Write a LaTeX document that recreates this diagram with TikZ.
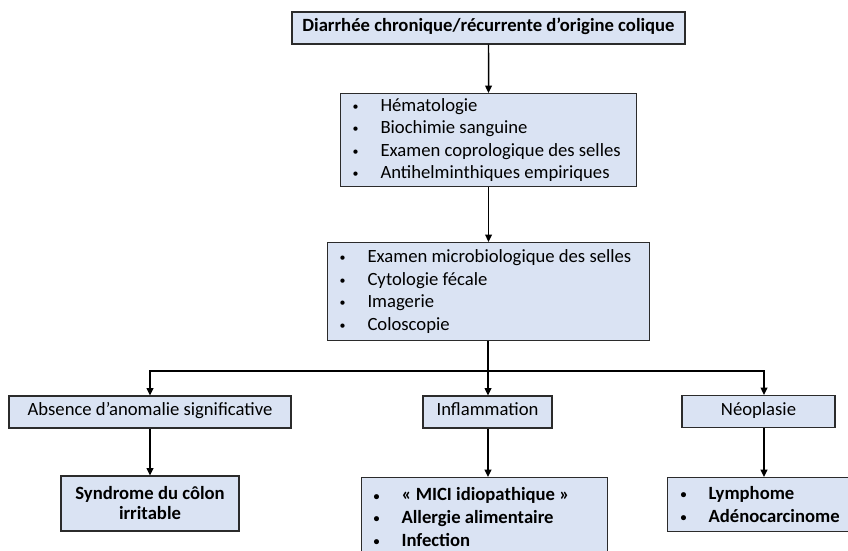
\documentclass[tikz,border=0pt]{standalone}
\usepackage{fontspec}
\setmainfont{Carlito}
\usetikzlibrary{arrows.meta,positioning,calc}
\definecolor{boxblue}{HTML}{DAE3F3}
\definecolor{boxline}{HTML}{2B2B2B}
\newcommand{\blt}{\makebox[21pt][l]{\raisebox{.1ex}{\small\textbullet}}}

\begin{document}
\begin{tikzpicture}[x=0.75pt, y=-0.75pt,
  box/.style={draw=boxline, fill=boxblue, line width=0.8pt, inner sep=0pt, align=center, font=\fontsize{14}{16.9}\selectfont},
  onebox/.style={box, text height=1.5ex, text depth=.3ex, minimum height=24pt},
  listbox/.style={box, anchor=north west, align=flush left, inner xsep=9pt},
  arr/.style={-{Triangle[length=5.5pt, width=5pt]}, line width=1.1pt, black},
  lin/.style={line width=1.1pt, black}
]
\useasboundingbox (0,0) rectangle (848,550);
% top
\node[onebox, font=\fontsize{14}{16.9}\selectfont\bfseries, minimum width=294.75pt] (diar) at (488.5,28) {Diarrhée chronique/récurrente d’origine colique};
% first work-up
\node[listbox, text width=204pt, minimum height=69.75pt] (bilan) at (340,93)
  {\blt Hématologie\\ \blt Biochimie sanguine\\ \blt Examen coprologique des selles\\ \blt Antihelminthiques empiriques};
% second work-up
\node[listbox, text width=223.5pt, minimum height=73.5pt] (explo) at (327,242)
  {\blt Examen microbiologique des selles\\ \blt Cytologie fécale\\ \blt Imagerie\\ \blt Coloscopie};
% results
\node[onebox, minimum width=211.5pt] (absence) at (150,412) {Absence d’anomalie significative};
\node[onebox, minimum width=96.75pt] (inflam) at (487.5,412) {Inflammation};
\node[onebox, minimum width=114.75pt] (neopl) at (758.5,411.5) {Néoplasie};
% diagnoses
\node[box, font=\fontsize{14}{15}\selectfont\bfseries, minimum width=133.5pt, minimum height=41.25pt] (sci) at (150,503.5) {Syndrome du côlon\\ irritable};
\node[listbox, font=\fontsize{14}{16.9}\selectfont\bfseries, text width=166.5pt, minimum height=59.25pt] (mici) at (361,477)
  {\blt « MICI idiopathique »\\ \blt Allergie alimentaire\\ \blt Infection};
\node[listbox, font=\fontsize{14}{16.9}\selectfont\bfseries, inner xsep=9.75pt, text width=125pt, minimum height=40.5pt] (tumeur) at (667,477)
  {\blt Lymphome\\ \blt Adénocarcinome};
% branch points
\coordinate (mb) at (488,371);
\coordinate (rb) at (764,371);
\draw[arr] (diar) -- (bilan);
\draw[arr] (bilan) -- (explo);
\draw[lin] (explo.south -| mb) -- (mb);
\draw[arr] (mb) -| (absence.north);
\draw[arr] (mb) -| (rb |- neopl.north);
\draw[arr] (mb) -- (mb |- inflam.north);
\draw[arr] (absence.south) -- (sci.north);
\draw[arr] (mb |- inflam.south) -- (mb |- mici.north);
\draw[arr] (rb |- neopl.south) -- (rb |- tumeur.north);
\end{tikzpicture}
\end{document}
